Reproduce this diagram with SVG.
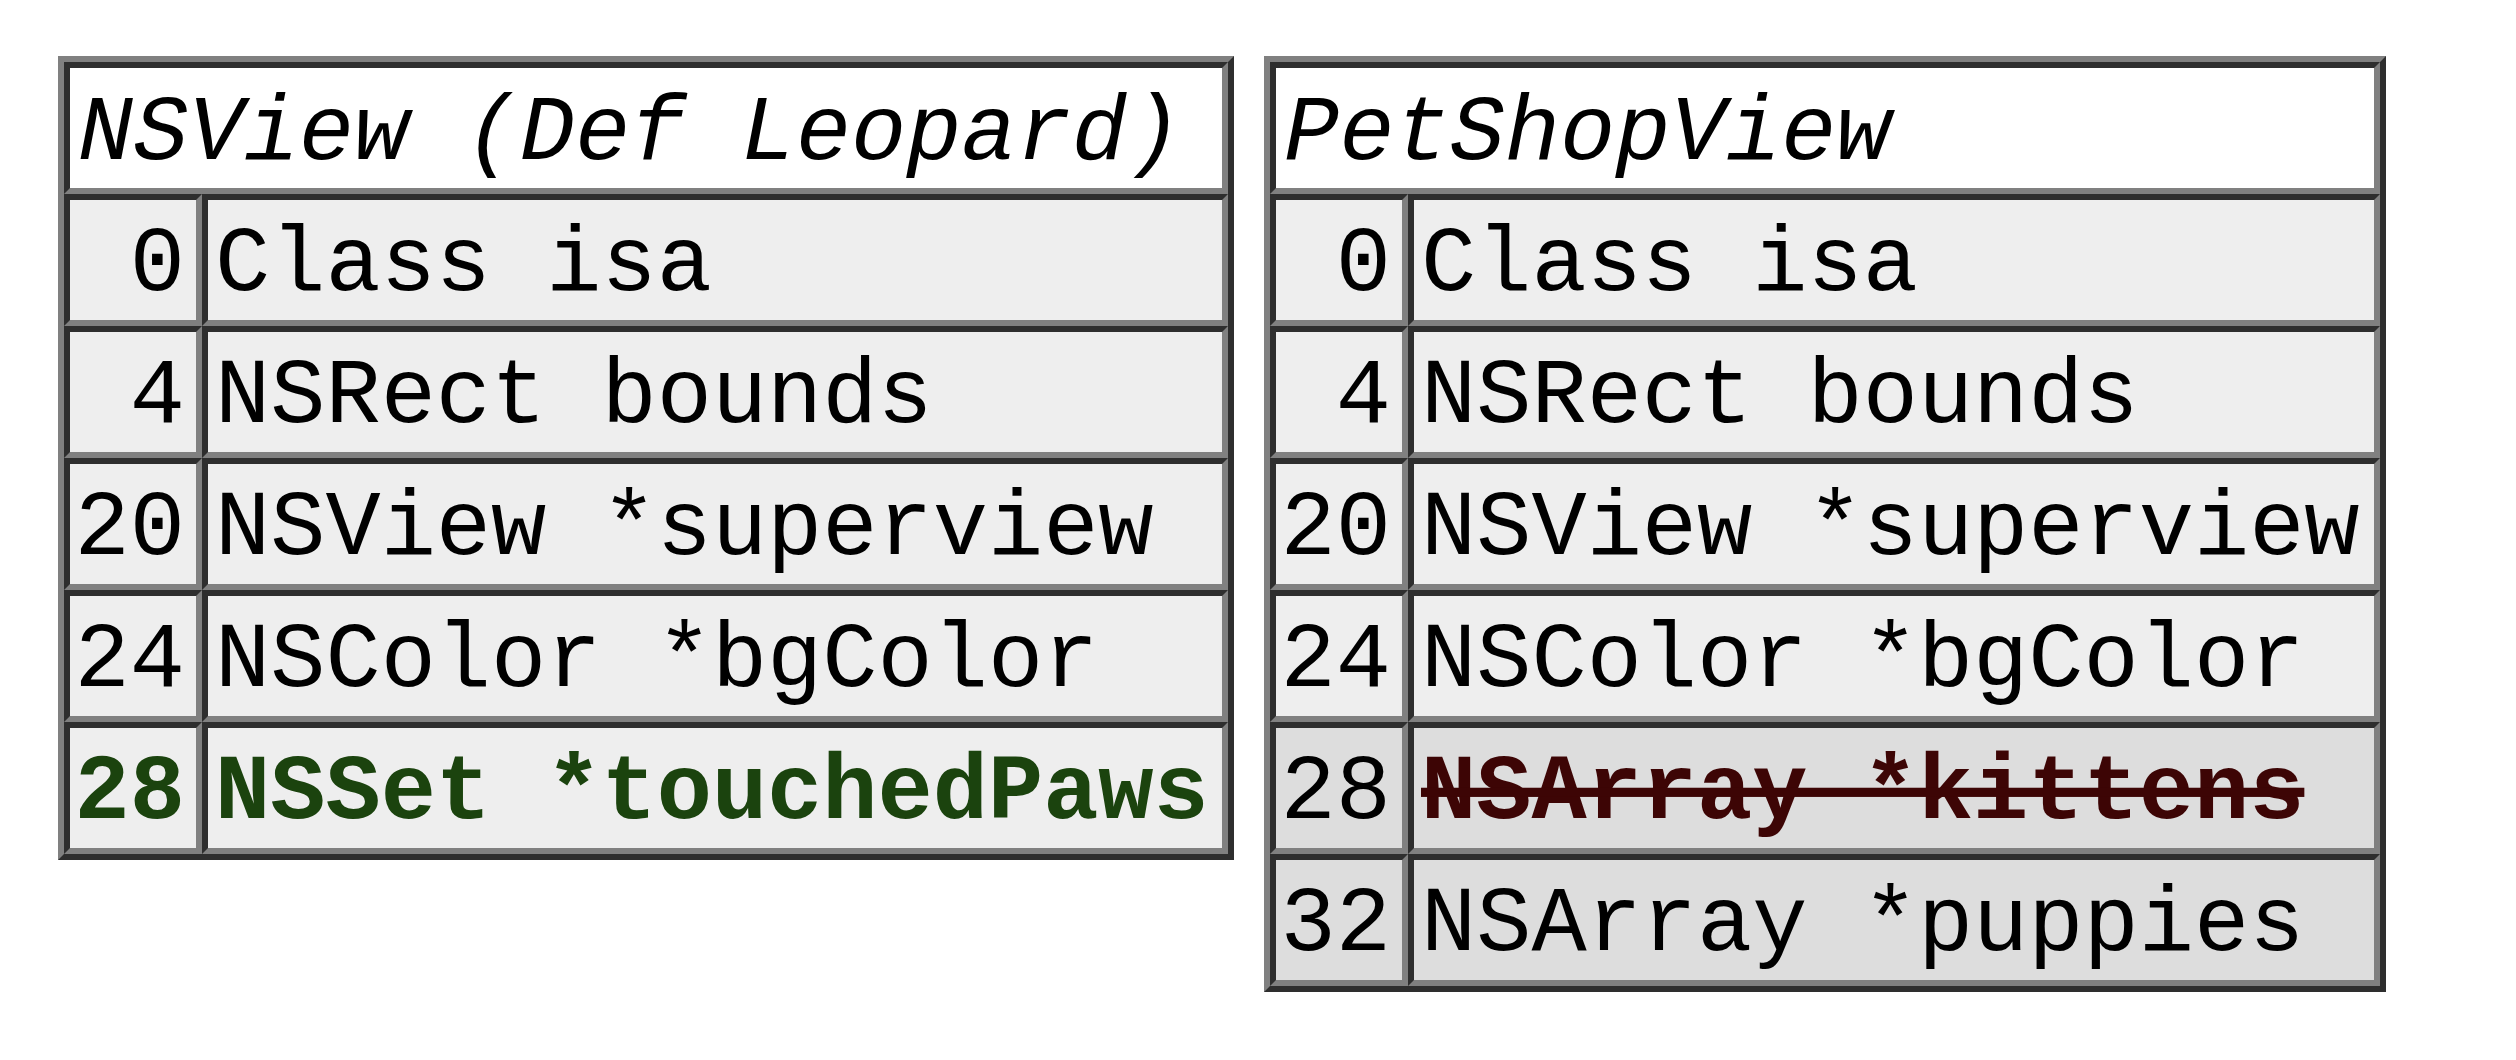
<svg xmlns="http://www.w3.org/2000/svg" width="2516" height="1060" viewBox="0 0 2516 1060">
  <style>
    .bg { fill: #ffffff; }
    .outset { fill: #808080; }
    .shade { fill: #2e2e2e; }
    .hi { fill: #808080; }
    .head { fill: #ffffff; }
    .cell { fill: #eeeeee; }
    .cell2 { fill: #dddddd; }
    text { font-family: "Liberation Mono", "Courier New", monospace; font-size: 92px; fill: #000000; }
    .title { font-style: italic; }
    .off { text-anchor: end; }
    .added { font-weight: bold; fill: #1b430e; }
    .removed { font-weight: bold; fill: #3d0505; text-decoration: line-through; }
  </style>
  <rect class="bg" x="0" y="0" width="2516" height="1060"/>

  <!-- NSView (Def Leopard) layout -->
  <g id="nsview">
    <rect class="outset" x="58" y="56" width="1176" height="804"/>
    <path class="shade" d="M1234 56 L1234 860 L58 860 L64 854 L1228 854 L1228 62 Z"/>
    <rect class="shade" x="64" y="62" width="1164" height="792"/>
    <g id="nsview-header">
      <path class="hi" d="M1228 62 L1228 194 L64 194 L70 188 L1222 188 L1222 68 Z"/>
      <rect class="head" x="70" y="68" width="1152" height="120"/>
      <text class="title" x="78" y="159">NSView (Def Leopard)</text>
    </g>
    <g id="nsview-isa">
      <path class="hi" d="M202 194 L202 326 L64 326 L70 320 L196 320 L196 200 Z"/>
      <rect class="cell" x="70" y="200" width="126" height="120"/>
      <path class="hi" d="M1228 194 L1228 326 L202 326 L208 320 L1222 320 L1222 200 Z"/>
      <rect class="cell" x="208" y="200" width="1014" height="120"/>
      <text class="off" x="185" y="290">0</text>
      <text x="215" y="290">Class isa</text>
    </g>
    <g id="nsview-bounds">
      <path class="hi" d="M202 326 L202 458 L64 458 L70 452 L196 452 L196 332 Z"/>
      <rect class="cell" x="70" y="332" width="126" height="120"/>
      <path class="hi" d="M1228 326 L1228 458 L202 458 L208 452 L1222 452 L1222 332 Z"/>
      <rect class="cell" x="208" y="332" width="1014" height="120"/>
      <text class="off" x="185" y="422">4</text>
      <text x="215" y="422">NSRect bounds</text>
    </g>
    <g id="nsview-superview">
      <path class="hi" d="M202 458 L202 590 L64 590 L70 584 L196 584 L196 464 Z"/>
      <rect class="cell" x="70" y="464" width="126" height="120"/>
      <path class="hi" d="M1228 458 L1228 590 L202 590 L208 584 L1222 584 L1222 464 Z"/>
      <rect class="cell" x="208" y="464" width="1014" height="120"/>
      <text class="off" x="185" y="554">20</text>
      <text x="215" y="554">NSView *superview</text>
    </g>
    <g id="nsview-bgcolor">
      <path class="hi" d="M202 590 L202 722 L64 722 L70 716 L196 716 L196 596 Z"/>
      <rect class="cell" x="70" y="596" width="126" height="120"/>
      <path class="hi" d="M1228 590 L1228 722 L202 722 L208 716 L1222 716 L1222 596 Z"/>
      <rect class="cell" x="208" y="596" width="1014" height="120"/>
      <text class="off" x="185" y="686">24</text>
      <text x="215" y="686">NSColor *bgColor</text>
    </g>
    <g id="nsview-touchedpaws">
      <path class="hi" d="M202 722 L202 854 L64 854 L70 848 L196 848 L196 728 Z"/>
      <rect class="cell" x="70" y="728" width="126" height="120"/>
      <path class="hi" d="M1228 722 L1228 854 L202 854 L208 848 L1222 848 L1222 728 Z"/>
      <rect class="cell" x="208" y="728" width="1014" height="120"/>
      <text class="off added" x="185" y="818">28</text>
      <text class="added" x="215" y="818">NSSet *touchedPaws</text>
    </g>
  </g>

  <!-- PetShopView layout -->
  <g id="petshopview">
    <rect class="outset" x="1264" y="56" width="1122" height="936"/>
    <path class="shade" d="M2386 56 L2386 992 L1264 992 L1270 986 L2380 986 L2380 62 Z"/>
    <rect class="shade" x="1270" y="62" width="1110" height="924"/>
    <g id="petshopview-header">
      <path class="hi" d="M2380 62 L2380 194 L1270 194 L1276 188 L2374 188 L2374 68 Z"/>
      <rect class="head" x="1276" y="68" width="1098" height="120"/>
      <text class="title" x="1284" y="159">PetShopView</text>
    </g>
    <g id="petshopview-isa">
      <path class="hi" d="M1408 194 L1408 326 L1270 326 L1276 320 L1402 320 L1402 200 Z"/>
      <rect class="cell" x="1276" y="200" width="126" height="120"/>
      <path class="hi" d="M2380 194 L2380 326 L1408 326 L1414 320 L2374 320 L2374 200 Z"/>
      <rect class="cell" x="1414" y="200" width="960" height="120"/>
      <text class="off" x="1391" y="290">0</text>
      <text x="1421" y="290">Class isa</text>
    </g>
    <g id="petshopview-bounds">
      <path class="hi" d="M1408 326 L1408 458 L1270 458 L1276 452 L1402 452 L1402 332 Z"/>
      <rect class="cell" x="1276" y="332" width="126" height="120"/>
      <path class="hi" d="M2380 326 L2380 458 L1408 458 L1414 452 L2374 452 L2374 332 Z"/>
      <rect class="cell" x="1414" y="332" width="960" height="120"/>
      <text class="off" x="1391" y="422">4</text>
      <text x="1421" y="422">NSRect bounds</text>
    </g>
    <g id="petshopview-superview">
      <path class="hi" d="M1408 458 L1408 590 L1270 590 L1276 584 L1402 584 L1402 464 Z"/>
      <rect class="cell" x="1276" y="464" width="126" height="120"/>
      <path class="hi" d="M2380 458 L2380 590 L1408 590 L1414 584 L2374 584 L2374 464 Z"/>
      <rect class="cell" x="1414" y="464" width="960" height="120"/>
      <text class="off" x="1391" y="554">20</text>
      <text x="1421" y="554">NSView *superview</text>
    </g>
    <g id="petshopview-bgcolor">
      <path class="hi" d="M1408 590 L1408 722 L1270 722 L1276 716 L1402 716 L1402 596 Z"/>
      <rect class="cell" x="1276" y="596" width="126" height="120"/>
      <path class="hi" d="M2380 590 L2380 722 L1408 722 L1414 716 L2374 716 L2374 596 Z"/>
      <rect class="cell" x="1414" y="596" width="960" height="120"/>
      <text class="off" x="1391" y="686">24</text>
      <text x="1421" y="686">NSColor *bgColor</text>
    </g>
    <g id="petshopview-kittens">
      <path class="hi" d="M1408 722 L1408 854 L1270 854 L1276 848 L1402 848 L1402 728 Z"/>
      <rect class="cell2" x="1276" y="728" width="126" height="120"/>
      <path class="hi" d="M2380 722 L2380 854 L1408 854 L1414 848 L2374 848 L2374 728 Z"/>
      <rect class="cell2" x="1414" y="728" width="960" height="120"/>
      <text class="off" x="1391" y="818">28</text>
      <text class="removed" x="1421" y="818">NSArray *kittens</text>
    </g>
    <g id="petshopview-puppies">
      <path class="hi" d="M1408 854 L1408 986 L1270 986 L1276 980 L1402 980 L1402 860 Z"/>
      <rect class="cell2" x="1276" y="860" width="126" height="120"/>
      <path class="hi" d="M2380 854 L2380 986 L1408 986 L1414 980 L2374 980 L2374 860 Z"/>
      <rect class="cell2" x="1414" y="860" width="960" height="120"/>
      <text class="off" x="1391" y="950">32</text>
      <text x="1421" y="950">NSArray *puppies</text>
    </g>
  </g>

  <!-- no connectors between the two layouts -->
  <g id="connectors"/>
</svg>
